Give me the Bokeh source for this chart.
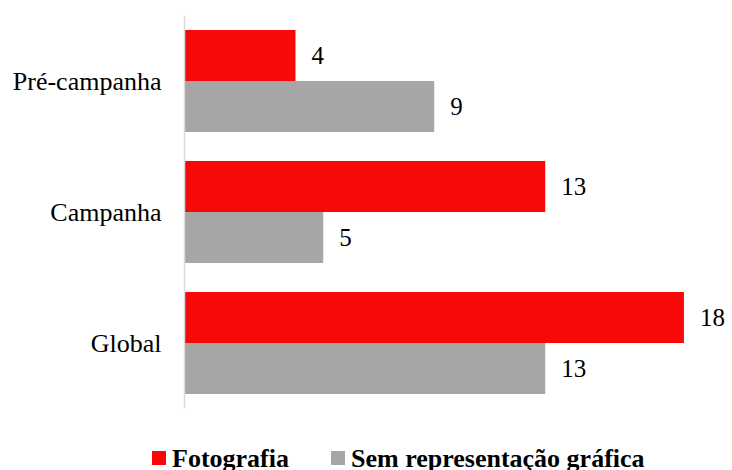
from bokeh.plotting import figure
from bokeh.layouts import column
from bokeh.models import ColumnDataSource, FactorRange, Range1d, Div
from bokeh.transform import dodge
from bokeh.core.properties import value
from bokeh.embed import file_html
from bokeh.resources import INLINE

categories = ["Global", "Campanha", "Pré-campanha"]
fotografia = [18, 13, 4]
sem_representacao = [13, 5, 9]
series_names = ["Fotografia", "Sem representação gráfica"]

RED = "#F90808"
GRAY = "#A6A6A6"
FONT = "Liberation Serif"

src = ColumnDataSource(dict(
    cat=categories,
    foto=fotografia,
    sem=sem_representacao,
    foto_lbl=[str(v) for v in fotografia],
    sem_lbl=[str(v) for v in sem_representacao],
))

p = figure(width=732, height=410,
           y_range=FactorRange(*categories),
           x_range=Range1d(0, 19.75),
           output_backend="svg", toolbar_location=None,
           min_border_left=184, min_border_right=0,
           min_border_top=15, min_border_bottom=2)

r1 = p.hbar(y=dodge('cat', 0.195, range=p.y_range), right='foto', left=0, height=0.39,
            fill_color=RED, line_color=None, source=src)
r2 = p.hbar(y=dodge('cat', -0.195, range=p.y_range), right='sem', left=0, height=0.39,
            fill_color=GRAY, line_color=None, source=src)

p.text(x='foto', y=dodge('cat', 0.195, range=p.y_range), text='foto_lbl', x_offset=16,
       text_baseline='middle', text_align='left', text_font=value(FONT),
       text_font_size="25px", text_color="black", source=src)
p.text(x='sem', y=dodge('cat', -0.195, range=p.y_range), text='sem_lbl', x_offset=16,
       text_baseline='middle', text_align='left', text_font=value(FONT),
       text_font_size="25px", text_color="black", source=src)

p.xaxis.visible = False
p.xgrid.visible = False
p.ygrid.visible = False
p.outline_line_color = None

ax = p.yaxis[0]
ax.axis_line_color = "#D9D9D9"
ax.axis_line_width = 1.5
ax.major_tick_line_color = None
ax.minor_tick_line_color = None
ax.major_label_text_font = FONT
ax.major_label_text_font_size = "26px"
ax.major_label_text_color = "black"
ax.major_label_standoff = 17

# legend strip below the chart
def item(color, label, gap):
    return (f'<span style="display:inline-block;width:14px;height:14px;background:{color};'
            f'margin-right:6px;vertical-align:2px;margin-left:{gap}px"></span>'
            f'<span>{label}</span>')

legend_html = (
    f'<div style="font-family:\'{FONT}\';font-weight:bold;font-size:26px;line-height:30px;'
    f'color:black;white-space:nowrap;padding-top:29px;padding-left:0px;">'
    + item(RED, series_names[0], 147)
    + item(GRAY, series_names[1], 42)
    + '</div>'
)
lg = Div(text=legend_html, width=732, height=60, styles={"overflow": "hidden"})

layout = column(p, lg, spacing=0)
open("out.html", "w").write(file_html(layout, INLINE))
